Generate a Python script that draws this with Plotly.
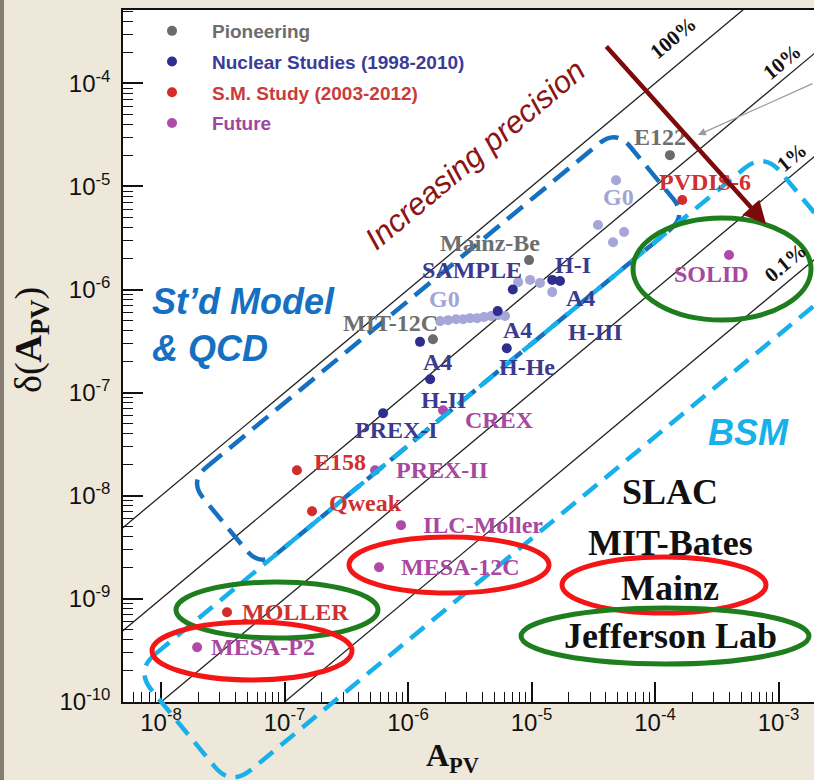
import math
import plotly.graph_objects as go

# ---------------- data ----------------
pion_names = ["E122", "Mainz-Be", "MIT-12C"]
pion_A = [1.32e-4, 9.55e-6, 1.59e-6]
pion_dA = [2.01e-5, 1.93e-6, 3.30e-7]

nuc_names = ["SAMPLE", "H-I", "H-I", "A4", "A4", "A4", "H-He", "PREX-I"]
nuc_A = [7.05e-6, 1.47e-5, 1.70e-5, 5.32e-6, 1.25e-6, 1.51e-6, 6.30e-6, 6.28e-7]
nuc_dA = [1.00e-6, 1.24e-6, 1.21e-6, 6.18e-7, 3.11e-7, 1.35e-7, 2.70e-7, 6.32e-8]

g0_A = [1.82e-6, 2.11e-6, 2.45e-6, 2.79e-6, 3.18e-6, 3.62e-6, 4.12e-6, 4.70e-6,
        5.36e-6, 6.10e-6, 7.78e-6, 9.73e-6, 1.17e-5, 1.47e-5, 3.45e-5, 5.61e-5,
        4.57e-5, 4.83e-5]
g0_dA = [4.94e-7, 5.05e-7, 5.16e-7, 5.16e-7, 5.28e-7, 5.28e-7, 5.41e-7, 5.53e-7,
         5.65e-7, 5.53e-7, 1.18e-6, 1.24e-6, 1.16e-6, 9.44e-7, 4.22e-6, 3.61e-6,
         2.88e-6, 1.15e-5]

sm_names = ["PVDIS-6", "E158", "Qweak", "MOLLER"]
sm_A = [1.66e-4, 1.26e-7, 1.67e-7, 3.42e-8]
sm_dA = [7.38e-6, 1.77e-8, 7.08e-9, 7.41e-10]

fut_names = ["SOLID", "CREX", "PREX-II", "ILC-Moller", "MESA-12C", "MESA-P2"]
fut_A = [3.97e-4, 1.92e-6, 5.41e-7, 8.77e-7, 5.82e-7, 1.96e-8]
fut_dA = [2.16e-6, 6.76e-8, 1.77e-8, 5.19e-9, 2.03e-9, 3.40e-10]

precision_levels = [1.0, 0.1, 0.01, 0.001]
precision_labels = ["100%", "10%", "1%", "0.1%"]
line_A = [1e-9, 1e-2]

x_tick_vals = [1e-8, 1e-7, 1e-6, 1e-5, 1e-4, 1e-3]
x_tick_text = ["10<sup>-8</sup>", "10<sup>-7</sup>", "10<sup>-6</sup>",
               "10<sup>-5</sup>", "10<sup>-4</sup>", "10<sup>-3</sup>"]
y_tick_vals = [1e-10, 1e-9, 1e-8, 1e-7, 1e-6, 1e-5, 1e-4]
y_tick_text = ["10<sup>-10</sup>", "10<sup>-9</sup>", "10<sup>-8</sup>", "10<sup>-7</sup>",
               "10<sup>-6</sup>", "10<sup>-5</sup>", "10<sup>-4</sup>"]

# ---------------- layout geometry ----------------
W, H = 814, 780
ML, MR, MT, MB = 123, 0, 10, 78
PW = W - ML - MR
PH = H - MT - MB
BG = "#eee8da"


def fx(px):
    return (px - ML) / PW


def fy(py):
    return (H - MB - py) / PH


C_GRAY = "#6b6b6b"
C_NUC = "#2e2e8e"
C_G0 = "#a6a6d8"
C_RED = "#d42b2b"
C_FUT = "#b04aa8"

fig = go.Figure()

for lvl in precision_levels:
    fig.add_trace(go.Scatter(x=line_A, y=[lvl * a for a in line_A], mode="lines",
                             line=dict(color="#222222", width=1.3),
                             showlegend=False, hoverinfo="skip"))

fig.add_trace(go.Scatter(x=g0_A, y=g0_dA, mode="markers", showlegend=False,
                         marker=dict(color=C_G0, size=10, line=dict(width=0))))

series = [
    ("Pioneering", pion_A, pion_dA, C_GRAY, "#6d6d6d"),
    ("Nuclear Studies (1998-2010)", nuc_A, nuc_dA, C_NUC, "#3b3b98"),
    ("S.M. Study (2003-2012)", sm_A, sm_dA, C_RED, "#c83c3c"),
    ("Future", fut_A, fut_dA, C_FUT, "#a046a0"),
]
for i, (name, xs, ys, col, tcol) in enumerate(series):
    fig.add_trace(go.Scatter(
        x=xs, y=ys, mode="markers",
        name=f"<span style='color:{tcol}'>{name}</span>",
        legendgroup=f"g{i}",
        marker=dict(color=col, size=10, line=dict(width=0))))

# ---------------- decorations ----------------
TH = math.radians(39.5)
U = (math.cos(TH), -math.sin(TH))
V = (math.sin(TH), math.cos(TH))


def st2paper(s, t):
    x = s * U[0] + t * V[0]
    y = s * U[1] + t * V[1]
    return f"{fx(x):.5f},{fy(y):.5f}"


def stadium(s0, s1, t0, t1, r):
    seq = [
        ("M", (s0 + r, t0)),
        ("L", (s1 - r, t0)),
        ("Q", (s1, t0), (s1, t0 + r)),
        ("L", (s1, t1 - r)),
        ("Q", (s1, t1), (s1 - r, t1)),
        ("L", (s0 + r, t1)),
        ("Q", (s0, t1), (s0, t1 - r)),
        ("L", (s0, t0 + r)),
        ("Q", (s0, t0), (s0 + r, t0)),
    ]
    out = []
    for item in seq:
        out.append(item[0] + " " + " ".join(st2paper(s, t) for (s, t) in item[1:]))
    return " ".join(out) + " Z"


shapes = []
# dark strip on the left page edge
shapes.append(dict(type="rect", xref="paper", yref="paper", x0=fx(0), x1=fx(4),
                   y0=fy(H), y1=fy(0), fillcolor="#857d72", line=dict(width=0),
                   layer="below"))
# dashed regions
shapes.append(dict(type="path", xref="paper", yref="paper",
                   path=stadium(-160, 393, 491.8, 603.4, 22),
                   line=dict(color="#1670c2", width=4.5, dash="20px,10px")))
shapes.append(dict(type="path", xref="paper", yref="paper",
                   path=stadium(-322, 493, 603.4, 753.7, 26),
                   line=dict(color="#17b0ea", width=4.5, dash="18px,10px")))


def ellipse(cx, cy, rx, ry, col):
    return dict(type="circle", xref="paper", yref="paper",
                x0=fx(cx - rx), x1=fx(cx + rx), y0=fy(cy + ry), y1=fy(cy - ry),
                line=dict(color=col, width=5))


GREEN = "#1e7e1e"
RED = "#f41616"
shapes += [
    ellipse(722, 269, 89, 51, GREEN),
    ellipse(277, 610, 101, 28, GREEN),
    ellipse(252, 651, 100, 29, RED),
    ellipse(449, 565, 100, 28, RED),
    ellipse(664, 585, 102, 28, RED),
    ellipse(665, 636, 144, 28, GREEN),
]

ann = []


def label(text, x, y, color, size=24, family="Liberation Serif", weight="bold",
          style="normal", angle=0, xanchor="center"):
    ann.append(dict(text=text, x=fx(x), y=fy(y), xref="paper", yref="paper",
                    showarrow=False, textangle=angle, xanchor=xanchor, yanchor="middle",
                    font=dict(family=family, size=size, color=color, weight=weight,
                              style=style)))


LG = "#6e6e6e"
LB = "#3a3a8e"
LL = "#a4a4d4"
LR = "#cf3030"
LP = "#a848a0"
for t, x, y, c in [
    ("E122", 660, 137, LG), ("Mainz-Be", 490, 243, LG), ("MIT-12C", 390, 323, LG),
    ("SAMPLE", 472, 270, LB), ("H-I", 573, 265, LB), ("A4", 580, 298, LB),
    ("A4", 517, 330, LB), ("H-III", 595, 332, LB), ("A4", 437, 362, LB),
    ("H-He", 527, 367, LB), ("H-II", 443, 400, LB), ("PREX-I", 396, 430, LB),
    ("G0", 618, 197, LL), ("G0", 444, 299, LL),
    ("PVDIS-6", 705, 182, LR), ("E158", 340, 462, LR), ("Qweak", 365, 503, LR),
    ("MOLLER", 295, 612, LR),
    ("SOLID", 711, 274, LP), ("CREX", 499, 420, LP), ("PREX-II", 442, 470, LP),
    ("ILC-Moller", 483, 525, LP), ("MESA-12C", 460, 567, LP), ("MESA-P2", 263, 647, LP),
]:
    label(t, x, y, c)

for t, (x, y) in zip(precision_labels, [(673, 38), (782, 62), (792, 157), (785, 263)]):
    label(t, x, y, "#111111", size=21, angle=-40)

label("Increasing precision", 475, 154, "#8b1414", size=31, family="Liberation Sans",
      weight="normal", style="italic", angle=-40)
label("St\u2019d Model", 150, 302, "#1670c2", size=36, family="Liberation Sans",
      style="italic", xanchor="left")
label("& QCD", 150, 348, "#1670c2", size=36, family="Liberation Sans",
      style="italic", xanchor="left")
label("BSM", 748, 432, "#17b0ea", size=36, family="Liberation Sans", style="italic")

for t, y in [("SLAC", 492), ("MIT-Bates", 543), ("Mainz", 588), ("Jefferson Lab", 636)]:
    label(t, 670, y, "#111111", size=36)

# axis titles
label("\u03b4(<b>A<sub>PV</sub></b>)", 31, 340, "#111111", size=38, weight="normal", angle=-90)
label("<b>A<sub>PV</sub></b>", 452, 757, "#111111", size=32, weight="normal")

# arrows
ann.append(dict(x=fx(766), y=fy(224), xref="paper", yref="paper", text="",
                showarrow=True, ax=605 - 766, ay=45 - 224, arrowhead=2, arrowsize=1,
                arrowwidth=4.5, arrowcolor="#7d0a0a", standoff=0))
ann.append(dict(x=fx(698), y=fy(135), xref="paper", yref="paper", text="",
                showarrow=True, ax=814 - 698, ay=83 - 135, arrowhead=2, arrowsize=1.3,
                arrowwidth=1.2, arrowcolor="#9a9a9a", standoff=0))

axis_common = dict(
    type="log", showgrid=False, zeroline=False, showline=True, linecolor="#111111",
    linewidth=1.5, ticks="inside", ticklen=20, tickwidth=1.5, tickcolor="#111111",
    tickfont=dict(family="Liberation Sans", size=24, color="#111111"),
    tickmode="array",
    minor=dict(ticks="inside", ticklen=10, tickwidth=1.2, tickcolor="#111111",
               dtick="D1", showgrid=False),
)

fig.update_layout(
    width=W, height=H,
    margin=dict(l=ML, r=MR, t=MT, b=MB, pad=0),
    paper_bgcolor=BG, plot_bgcolor="white",
    xaxis=dict(axis_common, range=[-8.308, -2.713], tickvals=x_tick_vals,
               ticktext=x_tick_text, mirror=True, ticklabelstandoff=-2),
    yaxis=dict(axis_common, range=[-10.0, -3.289], tickvals=y_tick_vals,
               ticktext=y_tick_text, ticklabelstandoff=6),
    showlegend=True,
    legend=dict(x=fx(132), y=fy(12), xanchor="left", yanchor="top",
                bgcolor="rgba(0,0,0,0)", itemwidth=70, tracegroupgap=3,
                traceorder="grouped",
                font=dict(family="Liberation Sans", size=19, weight="bold")),
    shapes=shapes,
    annotations=ann,
)

fig.write_html(
    "out.html",
    config={"displayModeBar": False},
    post_script=(
        "document.body.style.margin='0';"
        "document.body.style.padding='0';"
        "document.body.style.overflow='hidden';"
        f"document.body.style.background='{BG}';"
    ),
)
